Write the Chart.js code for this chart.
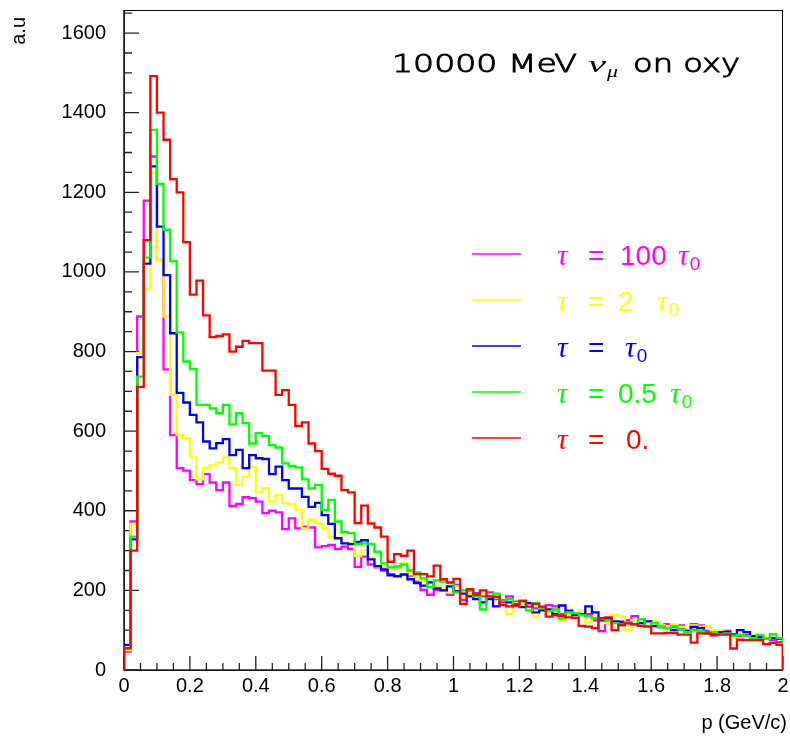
<!DOCTYPE html>
<html><head><meta charset="utf-8">
<script src="https://cdn.jsdelivr.net/npm/chart.js@4.4.0/dist/chart.umd.min.js"></script>
<style>html,body{margin:0;padding:0;background:#fff;}canvas{display:block;}</style>
</head><body>
<canvas id="c" width="790" height="745"></canvas>
<script>
// ---- data ----
const xMin = 0, xMax = 2, nBins = 100;
const yMin = 0, yMax = 1658;
const xTickValues = [0, 0.2, 0.4, 0.6, 0.8, 1, 1.2, 1.4, 1.6, 1.8, 2];
const xTickLabels = ['0', '0.2', '0.4', '0.6', '0.8', '1', '1.2', '1.4', '1.6', '1.8', '2'];
const yTickValues = [0, 200, 400, 600, 800, 1000, 1200, 1400, 1600];
const yTickLabels = ['0', '200', '400', '600', '800', '1000', '1200', '1400', '1600'];

const tau100 = [46,373,888,1179,1290,1030,755,590,507,501,
  477,467,492,471,452,471,412,417,434,432,
  423,394,400,396,354,381,356,360,358,308,
  311,314,304,310,304,259,285,265,258,250,
  241,235,239,237,222,201,189,201,201,189,
  214,176,189,193,185,195,178,170,185,172,
  160,168,155,152,163,160,140,150,142,138,
  140,125,98,118,120,122,125,135,128,122,
  118,112,115,108,112,105,115,112,98,95,
  92,98,90,85,88,78,85,80,76,70];
const tau2 = [50,367,796,958,1250,1030,888,691,590,582,
  534,479,507,515,521,534,507,465,486,510,
  446,457,423,440,420,417,403,356,378,369,
  356,333,333,320,318,286,301,283,260,256,
  260,256,268,240,232,225,218,212,205,195,
  210,185,190,178,195,190,182,165,140,168,
  162,150,135,158,145,148,125,138,140,150,
  120,132,128,118,138,135,100,125,120,118,
  122,112,110,115,108,105,112,108,110,100,
  98,88,82,90,85,88,80,82,80,78];
const tau1 = [63,328,786,1021,1265,1114,992,846,696,672,
  641,622,574,557,570,580,540,553,507,540,
  532,530,492,511,477,456,456,435,410,420,
  389,367,331,318,316,322,326,278,261,253,
  238,236,240,228,218,212,220,205,200,210,
  198,192,185,178,170,178,160,175,170,165,
  158,168,145,150,152,140,162,148,138,140,
  160,145,125,128,122,120,118,115,118,122,
  110,108,105,100,102,98,108,105,92,90,
  95,96,88,100,95,85,82,78,80,78];
const tau05 = [54,335,737,1036,1357,1221,1106,1027,848,775,
  756,666,666,657,645,666,617,645,620,569,
  595,588,565,559,519,513,509,479,456,465,
  402,427,373,346,344,317,318,317,297,268,
  258,260,265,250,245,230,208,225,222,218,
  195,200,198,185,152,185,192,175,178,160,
  172,150,168,155,148,152,130,145,142,138,
  135,130,128,125,118,112,120,115,128,110,
  118,108,105,110,102,95,100,98,92,95,
  90,92,86,88,85,80,88,78,90,80];
const tau0 = [55,300,711,1080,1492,1400,1332,1233,1200,1075,
  943,978,891,836,839,843,800,812,827,821,
  821,752,752,691,703,666,613,622,569,550,
  505,493,488,452,446,369,413,368,358,335,
  272,291,287,300,241,241,235,262,228,220,
  229,166,203,189,200,185,184,163,160,162,
  174,159,166,159,134,137,136,132,131,111,
  109,105,130,132,100,113,117,115,111,109,
  92,92,93,93,89,89,69,92,92,87,
  89,89,54,76,75,75,75,65,68,63];

const legendValues = ['100', '2', '', '0.5', '0.'];
const legendHasTau0 = [true, true, true, true, false];
const titleMain = '10000 MeV';
const titleNu = 'ν', titleMu = 'μ', titleTail = 'on oxy';
const xTitle = 'p (GeV/c)', yTitle = 'a.u';

// ---- styling / layout ----
const colors = ['#ff00ff', '#ffff00', '#0000ff', '#00ff00', '#ff0000'];
const series = [tau100, tau2, tau1, tau05, tau0];
const drawOrder = [4, 3, 2, 1, 0];
const legendLayout = { lineX0: 472, lineX1: 521, y0: 254, dy: 46, tauX: 557, eqX: 588,
  valueX: [620, 618, 0, 618, 626], tau0X: [678, 657, 625, 670, 0] };

const binW = (xMax - xMin) / nBins;
function toSteps(vals) {
  const pts = [{x: xMin, y: 0}];
  vals.forEach((v, i) => pts.push({x: xMin + i * binW, y: v}));
  pts.push({x: xMax, y: 0});
  return pts;
}
function labelFor(v, vals, labels) {
  for (let i = 0; i < vals.length; i++) if (Math.abs(vals[i] - v) < 1e-6) return labels[i];
  return '';
}

const frameTicks = {
  id: 'frameTicks',
  beforeDatasetsDraw(chart) {
    const {ctx, chartArea: a, scales: {x, y}} = chart;
    ctx.save();
    ctx.strokeStyle = '#000';
    ctx.lineWidth = 1;
    ctx.strokeRect(a.left + 0.5, a.top + 0.5, a.right - a.left - 1, a.bottom - a.top);
    ctx.lineWidth = 1.6;
    ctx.strokeStyle = '#222';
    ctx.beginPath();
    ctx.moveTo(a.left, a.top); ctx.lineTo(a.left, a.bottom); ctx.lineTo(a.right, a.bottom);
    ctx.stroke();
    ctx.lineWidth = 1.3;
    ctx.beginPath();
    for (let k = 0; k * 50 <= yMax; k++) {
      const py = y.getPixelForValue(k * 50);
      const len = (k % 4 === 0) ? 15 : 8;
      ctx.moveTo(a.left, py); ctx.lineTo(a.left + len, py);
    }
    for (let k = 0; k <= 40; k++) {
      const px = x.getPixelForValue(k * 0.05);
      const len = (k % 4 === 0) ? 14 : 7;
      ctx.moveTo(px, a.bottom); ctx.lineTo(px, a.bottom - len);
    }
    ctx.stroke();
    ctx.restore();
  }
};

function drawScaled(ctx, text, x, y, font, targetW, strokeW) {
  ctx.font = font;
  const w = ctx.measureText(text).width;
  const sx = targetW ? targetW / w : 1;
  ctx.save();
  ctx.translate(x, y);
  ctx.scale(sx, 1);
  ctx.fillText(text, 0, 0);
  if (strokeW) {
    ctx.lineWidth = strokeW;
    ctx.strokeStyle = ctx.fillStyle;
    ctx.strokeText(text, 0, 0);
  }
  ctx.restore();
}

const texts = {
  id: 'texts',
  afterDraw(chart) {
    const ctx = chart.ctx;
    ctx.save();
    ctx.textBaseline = 'alphabetic';
    ctx.textAlign = 'left';
    // title
    ctx.fillStyle = '#000';
    drawScaled(ctx, titleMain, 392, 72, '200 24px "DejaVu Sans"', 185, 0.9);
    drawScaled(ctx, titleNu, 588, 72, 'italic 24px "Liberation Serif"', 18, 0);
    drawScaled(ctx, titleMu, 607, 77, 'italic 16px "Liberation Serif"', 11, 0);
    drawScaled(ctx, titleTail, 633, 72, '200 24px "DejaVu Sans"', 107, 0.9);
    // axis titles
    ctx.font = '20px "Liberation Sans"';
    ctx.textAlign = 'right';
    ctx.fillText(xTitle, 787, 729);
    ctx.save();
    ctx.translate(25, 17);
    ctx.rotate(-Math.PI / 2);
    ctx.fillText(yTitle, 0, 0);
    ctx.restore();
    // legend
    ctx.textAlign = 'left';
    const L = legendLayout;
    for (let i = 0; i < 5; i++) {
      const ly = L.y0 + i * L.dy;
      ctx.strokeStyle = colors[i];
      ctx.lineWidth = 1.5;
      ctx.beginPath(); ctx.moveTo(L.lineX0, ly); ctx.lineTo(L.lineX1, ly); ctx.stroke();
      ctx.fillStyle = colors[i];
      const by = ly + 11;
      ctx.font = 'italic 30px "Liberation Serif"';
      ctx.fillText('τ', L.tauX, by);
      ctx.font = '28px "Liberation Sans"';
      ctx.fillText('=', L.eqX, by);
      if (legendValues[i]) ctx.fillText(legendValues[i], L.valueX[i], by);
      if (legendHasTau0[i]) {
        ctx.font = 'italic 30px "Liberation Serif"';
        ctx.fillText('τ', L.tau0X[i], by);
        const tw = ctx.measureText('τ').width;
        ctx.font = '19px "Liberation Sans"';
        ctx.fillText('0', L.tau0X[i] + tw + 1, by + 5);
      }
    }
    ctx.restore();
  }
};

const datasets = series.map((vals, i) => ({
  data: toSteps(vals),
  borderColor: colors[i],
  borderWidth: 2.3,
  stepped: 'before',
  pointRadius: 0,
  fill: false,
  order: drawOrder[i]
}));

new Chart(document.getElementById('c'), {
  type: 'line',
  data: { datasets },
  options: {
    responsive: false,
    animation: false,
    events: [],
    layout: { padding: { top: 10, right: 7, left: 0, bottom: 0 } },
    plugins: { legend: { display: false }, tooltip: { enabled: false }, title: { display: false } },
    scales: {
      x: {
        type: 'linear', min: xMin, max: xMax,
        grid: { display: false, drawTicks: false },
        border: { display: false },
        ticks: {
          stepSize: 0.2, autoSkip: false, includeBounds: false, maxRotation: 0, padding: 4,
          color: '#000', font: { family: '"Liberation Sans"', size: 20 },
          callback: v => labelFor(v, xTickValues, xTickLabels)
        },
        afterFit: s => { s.height = 75; s.paddingLeft = 0; s.paddingRight = 0; }
      },
      y: {
        type: 'linear', min: yMin, max: yMax,
        grid: { display: false, drawTicks: false },
        border: { display: false },
        ticks: {
          stepSize: 200, autoSkip: false, includeBounds: false, padding: 18,
          color: '#000', font: { family: '"Liberation Sans"', size: 20 },
          callback: v => labelFor(v, yTickValues, yTickLabels)
        },
        afterFit: s => { s.width = 124; s.paddingTop = 0; s.paddingBottom = 0; }
      }
    }
  },
  plugins: [frameTicks, texts]
});
</script>
</body></html>
